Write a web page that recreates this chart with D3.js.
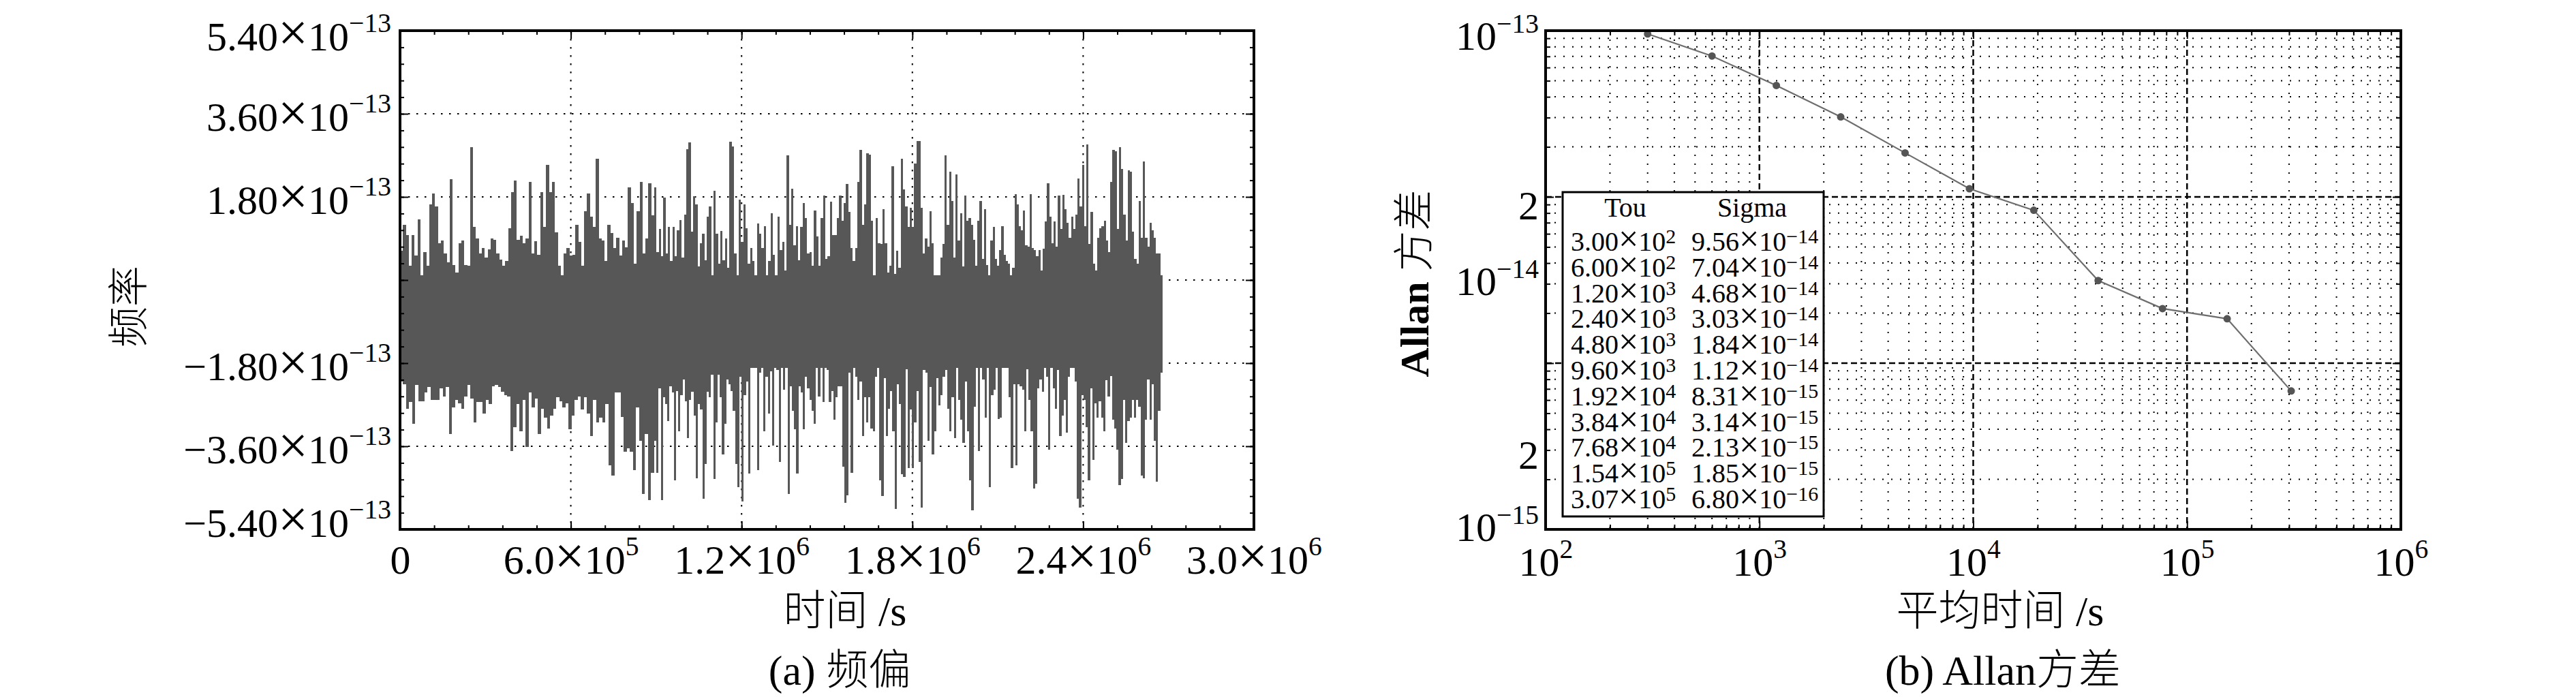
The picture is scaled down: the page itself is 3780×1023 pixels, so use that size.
<!DOCTYPE html>
<html><head><meta charset="utf-8">
<script src="https://cdn.jsdelivr.net/npm/d3@7"></script>
<style>
body{margin:0;background:#fff}
svg{display:block;background:#fff}
text{font-family:"Liberation Serif","Times New Roman",serif;fill:#000}
.cjk{font-family:"Noto Sans CJK SC","Noto Sans CJK JP",sans-serif;font-weight:300}
</style></head><body>
<svg id="c" width="3780" height="1023"></svg>
<script>
// ---------------- DATA ----------------
// (a) frequency offset, values in units of 1e-13, read from the picture as
// upper / lower spike envelopes, sampled evenly inside three time segments
const segStart = [0, 0.893e6, 1.791e6];
const segEnd   = [0.893e6, 1.791e6, 2.679e6];
const upperA = [0.63,1.19,0.98,0.31,0.98,0.53,1.31,0.11,0.60,0.31,1.64,1.87,1.60,0.80,0.85,0.58,0.39,2.18,0.33,0.16,0.80,0.85,0.33,0.31,2.87,1.15,0.90,0.58,0.69,0.48,0.66,0.90,0.87,0.58,0.45,0.31,0.41,1.12,1.91,2.15,0.87,0.96,0.80,0.90,2.12,0.58,0.84,0.55,1.91,1.15,2.50,1.91,2.12,1.03,0.31,0.09,0.58,0.69,0.53,0.55,1.19,0.83,0.31,1.49,1.87,1.37,1.15,2.63,0.90,0.85,0.41,1.20,1.02,0.70,0.92,0.53,0.85,0.71,2.01,1.66,0.36,1.49,2.12,0.58,0.90,2.10,1.40];
const upperB = [2.01,0.60,1.10,0.51,1.79,0.58,1.15,0.41,1.15,0.51,1.07,1.30,0.48,1.42,2.84,2.98,1.05,1.81,1.64,0.29,0.80,1.01,0.43,1.37,1.60,0.01,1.93,1.00,0.36,1.06,0.43,0.90,0.26,3.00,2.89,0.58,0.04,1.74,0.83,1.64,1.12,0.36,0.70,0.41,0.11,1.22,1.01,0.70,1.17,0.11,0.41,1.44,0.55,0.11,1.37,0.65,0.83,0.21,2.70,1.19,1.98,0.75,1.17,0.43,1.15,1.66,1.34,0.58,0.60,0.31,1.51,0.95,0.31,1.34,1.83,0.46,0.51,1.69,0.97,0.97,1.34,1.83,1.29,1.66,2.08,1.47,0.70,0.41,0.70,2.12,2.82,1.19,1.64,2.74,2.72,1.29,0.04,1.34,0.80,0.78,1.54,0.80,0.16,0.31,2.47,0.14,0.63,0.26,2.62,1.96,1.59,1.15];
const upperC = [1.56,1.15,2.52,3.01,3.01,1.56,0.58,0.90,0.73,1.49,0.80,-0.08,0.11,0.11,0.48,0.78,2.70,1.19,2.35,1.71,0.48,2.28,0.85,1.44,0.29,1.83,1.29,1.34,1.19,0.87,0.31,1.29,1.71,0.46,1.54,0.33,0.11,0.85,1.15,0.46,0.31,0.65,1.17,0.55,0.41,0.36,0.01,0.26,1.86,1.64,1.17,1.07,1.51,0.75,0.73,1.86,0.70,0.65,0.51,0.65,0.21,0.68,1.27,2.09,1.37,0.80,1.27,0.73,1.83,1.10,1.84,1.54,1.24,0.92,1.37,1.10,1.42,2.20,1.59,2.50,1.17,2.94,0.78,1.47,0.36,0.21,0.92,1.12,1.17,1.29,0.85,0.60,2.13,2.82,2.79,1.10,2.87,2.40,1.42,0.85,2.38,2.35,1.05,0.46,0.36,1.71,0.92,2.57,0.92,0.73,1.24,1.07,0.92,0.58,0.58,-0.13];
const lowerA = [-2.20,-2.25,-2.79,-2.64,-3.11,-2.27,-2.62,-2.62,-2.44,-2.32,-2.59,-2.59,-2.59,-2.35,-2.52,-2.32,-3.33,-2.76,-2.59,-2.67,-2.79,-2.52,-2.27,-2.57,-3.08,-2.64,-2.64,-2.89,-2.59,-2.69,-2.30,-2.27,-2.32,-2.42,-2.49,-2.52,-3.70,-3.18,-2.69,-3.28,-2.59,-3.62,-2.44,-2.76,-2.57,-3.33,-2.79,-2.98,-3.21,-2.94,-2.79,-2.54,-2.62,-2.76,-2.67,-3.23,-2.94,-2.59,-2.52,-2.81,-2.54,-2.89,-3.38,-2.59,-3.08,-2.98,-3.08,-2.69,-4.02,-4.24,-2.44,-2.44,-2.96,-3.72,-3.65,-3.72,-4.12,-2.76,-3.48,-4.63,-3.33,-4.76,-4.17];
const lowerB = [-3.48,-4.17,-2.35,-4.76,-2.54,-2.69,-3.06,-2.30,-2.44,-4.34,-2.40,-3.28,-2.49,-2.15,-2.62,-3.43,-2.59,-2.42,-2.94,-4.29,-2.69,-2.81,-4.73,-3.99,-2.42,-2.54,-2.05,-4.31,-3.08,-2.05,-2.54,-3.77,-3.11,-2.15,-2.25,-2.40,-2.84,-3.99,-4.49,-2.10,-4.80,-2.49,-2.20,-4.19,-1.81,-1.73,-1.90,-4.12,-2.00,-1.81,-3.28,-2.10,-2.89,-1.98,-3.58,-1.66,-1.95,-3.94,-1.78,-2.37,-1.88,-4.63,-2.30,-2.84,-3.23,-4.19,-2.30,-2.44,-3.23,-2.10,-2.35,-2.59,-2.84,-3.11,-1.71,-2.52,-1.71,-2.64,-1.85,-1.95,-2.64,-2.40,-3.03,-2.54,-2.30,-2.30,-4.04,-4.83,-4.66,-2.00,-4.17,-1.90,-2.10,-2.59,-2.20,-3.38,-2.54,-3.08,-2.54,-3.21,-3.28,-2.10,-1.90,-4.34,-4.68,-2.12,-3.38,-2.79,-2.40,-3.28,-4.95,-2.25,-2.69,-4.21,-4.26,-1.93,-4.07];
const lowerC = [-2.81,-4.07,-3.08,-2.40,-3.94,-4.93,-1.95,-2.00,-3.48,-2.32,-3.77,-3.28,-2.12,-2.71,-2.49,-2.10,-1.95,-2.79,-3.28,-2.54,-3.43,-1.90,-2.59,-3.03,-3.53,-2.20,-3.28,-4.34,-4.98,-2.74,-1.68,-3.70,-1.90,-2.15,-2.98,-1.90,-4.49,-2.49,-2.37,-1.90,-3.01,-2.98,-1.85,-1.71,-1.44,-2.54,-4.07,-2.25,-4.02,-2.25,-2.30,-2.37,-3.28,-1.93,-2.59,-3.28,-4.51,-4.41,-2.35,-2.15,-2.42,-1.66,-2.10,-3.67,-1.83,-2.35,-2.79,-1.95,-3.38,-2.94,-2.59,-3.31,-2.10,-1.66,-1.71,-2.20,-4.73,-4.93,-2.49,-2.59,-3.18,-4.34,-2.35,-3.89,-2.67,-2.98,-2.62,-2.98,-3.28,-2.17,-2.52,-2.08,-3.03,-3.21,-3.67,-4.44,-4.31,-2.59,-3.53,-3.06,-2.98,-2.59,-2.98,-2.59,-2.74,-4.24,-4.29,-3.03,-2.15,-3.03,-2.25,-3.48,-4.36,-2.84,-2.00];
const coreTop = 0.1;      // dense band of the signal (1e-13)
const coreBottom = -1.9;
const freqYTickVals = [5.4, 3.6, 1.8, 0, -1.8, -3.6, -5.4];
const freqYTickText = ["5.40", "3.60", "1.80", "", "\u22121.80", "\u22123.60", "\u22125.40"];
const freqXTickVals = [0, 6e5, 1.2e6, 1.8e6, 2.4e6, 3.0e6];
const freqXTickMant = ["0", "6.0", "1.2", "1.8", "2.4", "3.0"];
const freqXTickExp  = [null, 5, 6, 6, 6, 6];

// (b) Allan deviation
const tau   = [300, 600, 1200, 2400, 4800, 9600, 19200, 38400, 76800, 154000, 307000];
const sigma = [9.56e-14, 7.04e-14, 4.68e-14, 3.03e-14, 1.84e-14, 1.12e-14, 8.31e-15, 3.14e-15, 2.13e-15, 1.85e-15, 6.80e-16];
const allanXTicks = [1e2, 1e3, 1e4, 1e5, 1e6];
const allanYLabelVals = [1e-13, 2e-14, 1e-14, 2e-15, 1e-15];

// ---------------- DRAW ----------------
const svg = d3.select("#c");
const F = 60;            // tick label size
const minus = e => (e < 0 ? "\u2212" + (-e) : "" + e);

function sciLabel(t, mant, exp, opt) {
  t.text(null);
  t.append("tspan").text(mant);
  if (exp === null || exp === undefined) return;
  t.append("tspan").attr("font-size", "1.3em").text("\u00d7");
  t.append("tspan").attr("font-size", "1em").text("10");
  t.append("tspan").attr("font-size", opt.sup + "em").attr("dy", -opt.rise).text(minus(exp));
}
function tickAxis(g, axis, transform) {
  const a = g.append("g").attr("transform", transform).call(axis);
  a.select(".domain").remove();
  a.selectAll(".tick text").remove();
  a.selectAll(".tick line").attr("stroke", "#000").attr("stroke-width", 2);
  return a;
}

// ===== LEFT: frequency offset =====
const P1 = {x0: 587, x1: 1840, y0: 45, y1: 777};
const xF = d3.scaleLinear().domain([0, 3e6]).range([P1.x0, P1.x1]);
const yF = d3.scaleLinear().domain([-5.4, 5.4]).range([P1.y1, P1.y0]);
const g1 = svg.append("g");

// grid (dotted)
g1.append("g").selectAll("line").data(freqXTickVals.slice(1, -1)).join("line")
  .attr("x1", d => xF(d)).attr("x2", d => xF(d)).attr("y1", P1.y0).attr("y2", P1.y1)
  .attr("stroke", "#000").attr("stroke-width", 2).attr("stroke-dasharray", "2.5,9.5");
g1.append("g").selectAll("line").data(freqYTickVals.slice(1, -1)).join("line")
  .attr("y1", d => yF(d)).attr("y2", d => yF(d)).attr("x1", P1.x0).attr("x2", P1.x1)
  .attr("stroke", "#000").attr("stroke-width", 2).attr("stroke-dasharray", "2.5,9.5");

// signal
function buildBars(segs) {
  const out = [];
  segs.forEach((arr, s) => {
    const dt = (segEnd[s] - segStart[s]) / arr.length;
    arr.forEach((v, i) => out.push({t0: segStart[s] + i * dt, t1: segStart[s] + (i + 1) * dt, v}));
  });
  return out;
}
const coreMid = (coreTop + coreBottom) / 2;
const ups = buildBars([upperA, upperB, upperC]);
const lows = buildBars([lowerA, lowerB, lowerC]);
const sigG = g1.append("g").attr("fill", "#575757").attr("shape-rendering", "crispEdges");
sigG.append("rect").attr("x", xF(segStart[0])).attr("width", xF(segEnd[2]) - xF(segStart[0]))
  .attr("y", yF(coreTop)).attr("height", yF(coreBottom) - yF(coreTop));
sigG.append("g").selectAll("rect").data(ups).join("rect")
  .attr("x", d => xF(d.t0)).attr("width", d => xF(d.t1) - xF(d.t0))
  .attr("y", d => yF(d.v)).attr("height", d => Math.max(0, yF(coreMid) - yF(d.v)));
sigG.append("g").selectAll("rect").data(lows).join("rect")
  .attr("x", d => xF(d.t0)).attr("width", d => xF(d.t1) - xF(d.t0))
  .attr("y", yF(coreMid)).attr("height", d => Math.max(0, yF(d.v) - yF(coreMid)));

// ticks (inward, all four sides)
const xMinor1 = d3.range(0, 3e6 + 1, 1.2e5);
const yMinor1 = d3.range(-5.4, 5.41, 0.36);
tickAxis(g1, d3.axisBottom(xF).tickValues(xMinor1).tickSize(-6), `translate(0,${P1.y1})`);
tickAxis(g1, d3.axisTop(xF).tickValues(xMinor1).tickSize(-6), `translate(0,${P1.y0})`);
tickAxis(g1, d3.axisBottom(xF).tickValues(freqXTickVals).tickSize(-12), `translate(0,${P1.y1})`);
tickAxis(g1, d3.axisTop(xF).tickValues(freqXTickVals).tickSize(-12), `translate(0,${P1.y0})`);
tickAxis(g1, d3.axisLeft(yF).tickValues(yMinor1).tickSize(-6), `translate(${P1.x0},0)`);
tickAxis(g1, d3.axisRight(yF).tickValues(yMinor1).tickSize(-6), `translate(${P1.x1},0)`);
tickAxis(g1, d3.axisLeft(yF).tickValues(freqYTickVals).tickSize(-12), `translate(${P1.x0},0)`);
tickAxis(g1, d3.axisRight(yF).tickValues(freqYTickVals).tickSize(-12), `translate(${P1.x1},0)`);

// tick labels
const xl1 = g1.append("g").attr("transform", `translate(0,${P1.y1})`)
  .call(d3.axisBottom(xF).tickValues(freqXTickVals).tickSize(0));
xl1.select(".domain").remove();
xl1.attr("font-size", F).attr("font-family", null);
xl1.selectAll(".tick text").attr("y", 65).attr("dy", 0).each(function (d, i) {
  sciLabel(d3.select(this), freqXTickMant[i], freqXTickExp[i], {sup: 0.66, rise: 27});
});
const yl1 = g1.append("g").attr("transform", `translate(${P1.x0},0)`)
  .call(d3.axisLeft(yF).tickValues(freqYTickVals).tickSize(0).tickPadding(13));
yl1.select(".domain").remove();
yl1.attr("font-size", F).attr("font-family", null);
yl1.selectAll(".tick text").attr("dy", (d, i) => (i === 0 ? 28 : i === freqYTickVals.length - 1 ? 10 : 24))
  .each(function (d, i) {
    if (freqYTickText[i] === "") { d3.select(this).remove(); return; }
    sciLabel(d3.select(this), freqYTickText[i], -13, {sup: 0.66, rise: 27});
  });

// frame
g1.append("rect").attr("x", P1.x0).attr("y", P1.y0).attr("width", P1.x1 - P1.x0).attr("height", P1.y1 - P1.y0)
  .attr("fill", "none").attr("stroke", "#000").attr("stroke-width", 4);

// axis titles
svg.append("text").attr("class", "cjk").attr("font-size", 60).attr("text-anchor", "middle")
  .attr("transform", "translate(210,450) rotate(-90)").text("频率");
const t1 = svg.append("text").attr("x", 1240).attr("y", 918).attr("text-anchor", "middle").attr("font-size", 62);
t1.append("tspan").attr("class", "cjk").text("时间");
t1.append("tspan").text(" /s");
const c1 = svg.append("text").attr("x", 1232).attr("y", 1005).attr("text-anchor", "middle").attr("font-size", 62);
c1.append("tspan").text("(a) ");
c1.append("tspan").attr("class", "cjk").text("频偏");

// ===== RIGHT: Allan deviation =====
const P2 = {x0: 2268, x1: 3523, y0: 45, y1: 777};
const xA = d3.scaleLog().domain([1e2, 1e6]).range([P2.x0, P2.x1]);
const yA = d3.scaleLog().domain([1e-16, 1e-13]).range([P2.y1, P2.y0]);
const yLab = d3.scaleLog().domain([1e-15, 1e-13]).range([P2.y1, P2.y0]);
const g2 = svg.append("g");

const xMinor2 = [], yMinor2 = [];
for (let e = 2; e < 6; e++) for (let k = 2; k <= 9; k++) xMinor2.push(k * Math.pow(10, e));
for (let e = -16; e < -13; e++) for (let k = 2; k <= 9; k++) yMinor2.push(k * Math.pow(10, e));
const xMajor2 = [1e2, 1e3, 1e4, 1e5, 1e6];
const yMajor2 = [1e-16, 1e-15, 1e-14, 1e-13];

// grid
g2.append("g").selectAll("line").data(xMinor2).join("line")
  .attr("x1", d => xA(d)).attr("x2", d => xA(d)).attr("y1", P2.y0).attr("y2", P2.y1)
  .attr("stroke", "#000").attr("stroke-width", 2).attr("stroke-dasharray", "2,11");
g2.append("g").selectAll("line").data(yMinor2).join("line")
  .attr("y1", d => yA(d)).attr("y2", d => yA(d)).attr("x1", P2.x0).attr("x2", P2.x1)
  .attr("stroke", "#000").attr("stroke-width", 2).attr("stroke-dasharray", "2,11");
g2.append("g").selectAll("line").data(xMajor2.slice(1, -1)).join("line")
  .attr("x1", d => xA(d)).attr("x2", d => xA(d)).attr("y1", P2.y0).attr("y2", P2.y1)
  .attr("stroke", "#000").attr("stroke-width", 2.5).attr("stroke-dasharray", "9,5");
g2.append("g").selectAll("line").data(yMajor2.slice(1, -1)).join("line")
  .attr("y1", d => yA(d)).attr("y2", d => yA(d)).attr("x1", P2.x0).attr("x2", P2.x1)
  .attr("stroke", "#000").attr("stroke-width", 2.5).attr("stroke-dasharray", "9,5");

// ticks
tickAxis(g2, d3.axisBottom(xA).tickValues(xMinor2).tickSize(-7), `translate(0,${P2.y1})`);
tickAxis(g2, d3.axisTop(xA).tickValues(xMinor2).tickSize(-7), `translate(0,${P2.y0})`);
tickAxis(g2, d3.axisBottom(xA).tickValues(xMajor2).tickSize(-12), `translate(0,${P2.y1})`);
tickAxis(g2, d3.axisTop(xA).tickValues(xMajor2).tickSize(-12), `translate(0,${P2.y0})`);
tickAxis(g2, d3.axisLeft(yA).tickValues(yMinor2).tickSize(-7), `translate(${P2.x0},0)`);
tickAxis(g2, d3.axisRight(yA).tickValues(yMinor2).tickSize(-7), `translate(${P2.x1},0)`);
tickAxis(g2, d3.axisLeft(yA).tickValues(yMajor2).tickSize(-12), `translate(${P2.x0},0)`);
tickAxis(g2, d3.axisRight(yA).tickValues(yMajor2).tickSize(-12), `translate(${P2.x1},0)`);

// curve
g2.append("path").datum(tau.map((t, i) => [t, sigma[i]]))
  .attr("fill", "none").attr("stroke", "#6e6e6e").attr("stroke-width", 2.2)
  .attr("d", d3.line().x(d => xA(d[0])).y(d => yA(d[1])));
g2.append("g").selectAll("circle").data(tau).join("circle")
  .attr("cx", d => xA(d)).attr("cy", (d, i) => yA(sigma[i])).attr("r", 5.5).attr("fill", "#555");

// tick labels
const xl2 = g2.append("g").attr("transform", `translate(0,${P2.y1})`)
  .call(d3.axisBottom(xA).tickValues(allanXTicks).tickSize(0));
xl2.select(".domain").remove();
xl2.attr("font-size", F).attr("font-family", null);
xl2.selectAll(".tick text").attr("y", 68).attr("dy", 0).each(function (d) {
  const t = d3.select(this).text(null);
  t.append("tspan").text("10");
  t.append("tspan").attr("font-size", "0.66em").attr("dy", -26).text(minus(Math.round(Math.log10(d))));
});
const yl2 = g2.append("g").attr("transform", `translate(${P2.x0},0)`)
  .call(d3.axisLeft(yLab).tickValues(allanYLabelVals).tickSize(0).tickPadding(10));
yl2.select(".domain").remove();
yl2.attr("font-size", F).attr("font-family", null);
yl2.selectAll(".tick text").attr("dy", (d, i) => (i === 0 ? 27 : i === allanYLabelVals.length - 1 ? 16 : 21))
  .each(function (d) {
    const e = Math.floor(Math.log10(d) + 1e-9);
    const m = Math.round(d / Math.pow(10, e));
    const t = d3.select(this).text(null);
    if (m !== 1) { t.text(String(m)); return; }
    t.append("tspan").text("10");
    t.append("tspan").attr("font-size", "0.66em").attr("dy", -25).text(minus(e));
  });

// table box
const box = g2.append("g");
box.append("rect").attr("x", 2293).attr("y", 282).attr("width", 383).attr("height", 476)
  .attr("fill", "#fff").attr("stroke", "#000").attr("stroke-width", 3);
box.append("text").attr("x", 2385).attr("y", 318).attr("text-anchor", "middle").attr("font-size", 40).text("Tou");
box.append("text").attr("x", 2571).attr("y", 318).attr("text-anchor", "middle").attr("font-size", 40).text("Sigma");
function splitExp(v) {
  const s = v.toExponential(2).split("e");
  return [s[0], parseInt(s[1], 10)];
}
tau.forEach((t, i) => {
  const y = 368 + i * 37.8;
  const [m1, e1] = splitExp(t);
  sciLabel(box.append("text").attr("x", 2305).attr("y", y).attr("font-size", 40), m1, e1, {sup: 0.75, rise: 11});
  const [m2, e2] = splitExp(sigma[i]);
  sciLabel(box.append("text").attr("x", 2482).attr("y", y).attr("font-size", 40), m2, e2, {sup: 0.75, rise: 11});
});

// frame
g2.append("rect").attr("x", P2.x0).attr("y", P2.y0).attr("width", P2.x1 - P2.x0).attr("height", P2.y1 - P2.y0)
  .attr("fill", "none").attr("stroke", "#000").attr("stroke-width", 4);

// axis titles
const ya = svg.append("text").attr("font-size", 60).attr("text-anchor", "middle")
  .attr("transform", "translate(2096,416) rotate(-90)");
ya.append("tspan").attr("font-weight", "bold").text("Allan ");
ya.append("tspan").attr("class", "cjk").text("方差");
const t2 = svg.append("text").attr("x", 2935).attr("y", 918).attr("text-anchor", "middle").attr("font-size", 62);
t2.append("tspan").attr("class", "cjk").text("平均时间");
t2.append("tspan").text(" /s");
const c2 = svg.append("text").attr("x", 2939).attr("y", 1005).attr("text-anchor", "middle").attr("font-size", 62);
c2.append("tspan").text("(b) Allan");
c2.append("tspan").attr("class", "cjk").text("方差");
</script>
</body></html>
